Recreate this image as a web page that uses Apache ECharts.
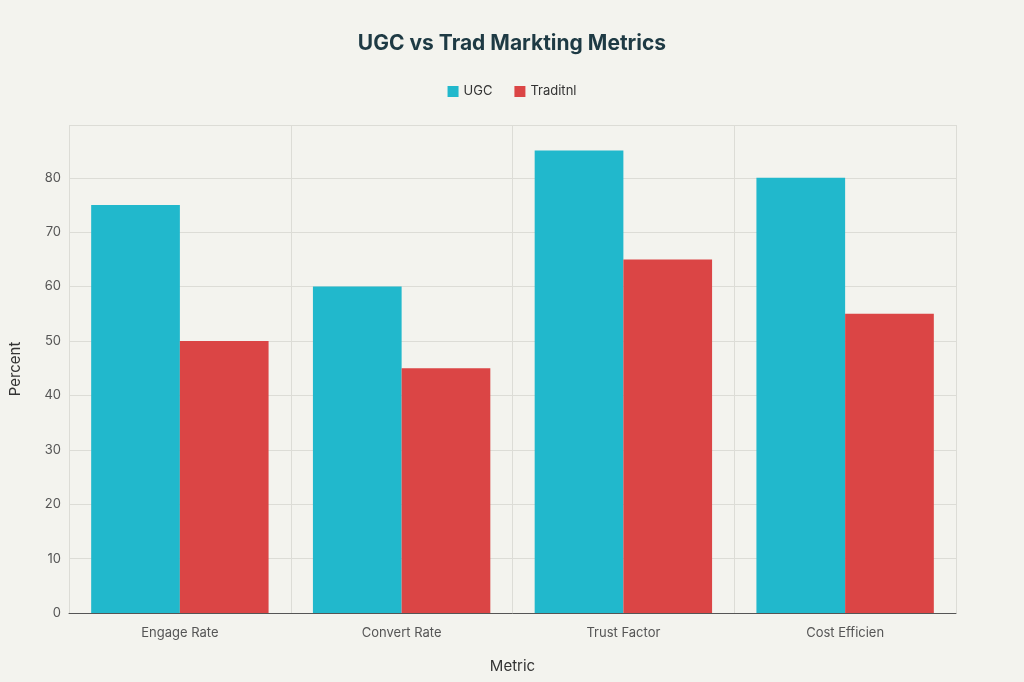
<!DOCTYPE html>
<html><head><meta charset="utf-8">
<script src="https://cdn.jsdelivr.net/npm/echarts@6/dist/echarts.min.js"></script>
<style>html,body{margin:0;background:#f3f3ee}#c{width:1024px;height:682px}</style>
</head><body><div id="c"></div>
<script>
const categories=["Engage Rate","Convert Rate","Trust Factor","Cost Efficien"];
const ugc=[75,60,85,80];
const trad=[50,45,65,55];
const chart=echarts.init(document.getElementById('c'));
chart.setOption({
backgroundColor:'#f3f3ee',
textStyle:{fontFamily:'Inter, sans-serif'},
title:{text:'UGC vs Trad Markting Metrics',left:'center',top:28,textStyle:{fontSize:21,fontWeight:'bold',color:'#1e3a44'}},
legend:{top:80,left:'center',itemWidth:11,itemHeight:11,icon:'rect',itemGap:22,textStyle:{fontSize:13,color:'#333'},data:['UGC','Traditnl']},
grid:{left:68,right:68,top:125,bottom:69},
xAxis:{type:'category',data:categories,name:'Metric',nameLocation:'middle',nameGap:46,nameTextStyle:{fontSize:15,color:'#333'},
axisTick:{show:false},axisLine:{lineStyle:{color:'#555'}},axisLabel:{fontSize:13,color:'#555',margin:14},
splitLine:{show:true,interval:(i)=>true,lineStyle:{color:'#dcdcd6'}},boundaryGap:true},
yAxis:{type:'value',min:0,max:89.7,interval:10,name:'Percent',nameLocation:'middle',nameGap:46,nameTextStyle:{fontSize:15,color:'#333'},
axisLabel:{fontSize:13,color:'#555',showMaxLabel:false},splitLine:{lineStyle:{color:'#dcdcd6'}}},
series:[
{name:'UGC',type:'bar',data:ugc,itemStyle:{color:'#21b8cc'},barGap:'0%',barCategoryGap:'20%'},
{name:'Traditnl',type:'bar',data:trad,itemStyle:{color:'#db4545'}}
]});
</script></body></html>
